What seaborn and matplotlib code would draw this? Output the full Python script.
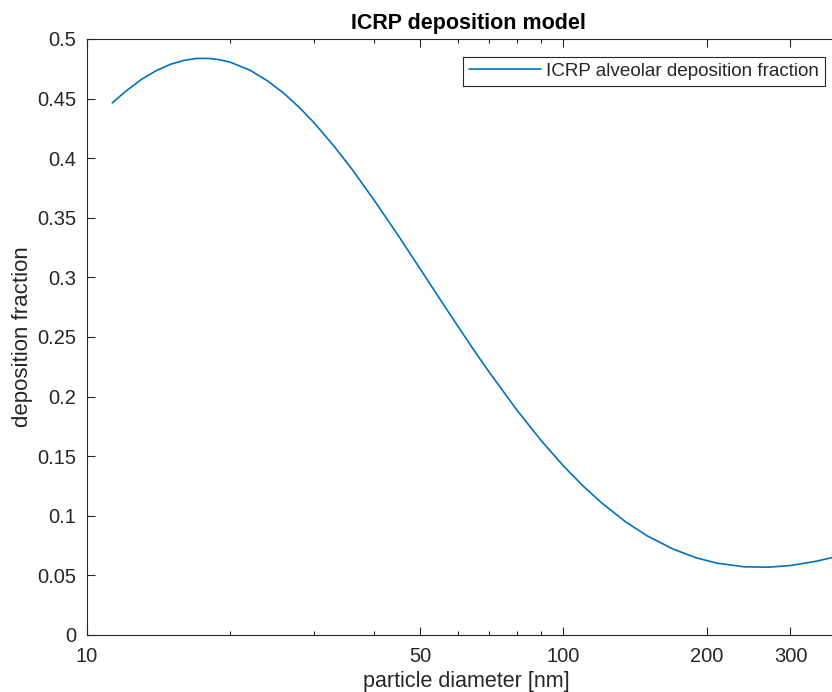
import matplotlib
matplotlib.use("Agg")
import matplotlib.pyplot as plt
import matplotlib.ticker as mticker
import numpy as np
import pandas as pd
import seaborn as sns

# particle diameter [nm] and ICRP alveolar deposition fraction
diameter_nm = [11.3, 12, 13, 14, 15, 16, 17, 18, 19, 20, 22, 24, 26, 28, 30, 33, 36,
               40, 45, 50, 55, 60, 65, 70, 80, 90, 100, 110, 120, 135, 150, 170, 190,
               210, 240, 270, 300, 340, 370, 400]
deposition = [0.4463, 0.4555, 0.4660, 0.4736, 0.4789, 0.4821, 0.4837, 0.4837, 0.4826,
              0.4805, 0.4738, 0.4646, 0.4539, 0.4420, 0.4296, 0.4102, 0.3908, 0.3653,
              0.3353, 0.3075, 0.2822, 0.2594, 0.2387, 0.2202, 0.1885, 0.1628, 0.1420,
              0.1251, 0.1113, 0.0951, 0.0832, 0.0721, 0.0648, 0.0603, 0.0572, 0.0569,
              0.0583, 0.0619, 0.0653, 0.0690]
series_label = "ICRP alveolar deposition fraction"
xticks = [10, 50, 100, 200, 300]
yticks = [0, 0.05, 0.1, 0.15, 0.2, 0.25, 0.3, 0.35, 0.4, 0.45, 0.5]

df = pd.DataFrame({"d": diameter_nm, "f": deposition, "s": series_label})

sns.set_theme(style="ticks")
plt.rcParams["font.family"] = ["Liberation Sans", "DejaVu Sans"]
axcol = "#262626"

fig = plt.figure(figsize=(8.32, 6.92), dpi=100)
W, H = 832, 692
ax = fig.add_axes([87 / W, 1 - 635 / H, 763 / W, 596 / H])

sns.lineplot(data=df, x="d", y="f", hue="s", palette=["#0072BD"], ax=ax,
             linewidth=1.2, estimator=None, sort=False)

ax.set_xscale("log")
ax.set_xlim(10, 400)
ax.set_ylim(0, 0.5)
ax.xaxis.set_major_locator(mticker.FixedLocator(xticks))
ax.xaxis.set_major_formatter(mticker.FixedFormatter([str(t) for t in xticks]))
ax.xaxis.set_minor_locator(mticker.LogLocator(base=10, subs=np.arange(2, 10)))
ax.xaxis.set_minor_formatter(mticker.NullFormatter())
ax.set_yticks(yticks)
ax.set_yticklabels([f"{t:g}" for t in yticks])

for sp in ax.spines.values():
    sp.set_visible(True)
    sp.set_color(axcol)
    sp.set_linewidth(0.8)

ax.tick_params(which="both", direction="in", top=True, right=True, colors=axcol,
               labelcolor=axcol, labelsize=14.5, width=0.8)
ax.tick_params(which="major", length=6)
ax.tick_params(which="minor", length=3)
ax.tick_params(axis="y", which="major", pad=8)
ax.tick_params(axis="x", which="major", pad=9)

ax.set_title("ICRP deposition model", fontsize=15.5, fontweight="bold", color="black", pad=7.5)
ax.set_xlabel("particle diameter [nm]", fontsize=15.5, color=axcol)
ax.set_ylabel("deposition fraction", fontsize=16, color=axcol)
ax.xaxis.set_label_coords((466 - 87) / 763, -0.061)
ax.yaxis.set_label_coords(-0.071, 0.5)

leg = ax.legend(loc="upper right", bbox_to_anchor=(825 / W, 1 - 57 / H),
                bbox_transform=fig.transFigure, fontsize=13.6, frameon=True,
                fancybox=False, framealpha=1, handlelength=3.8, borderpad=0.3,
                handletextpad=0.3, borderaxespad=0)
leg.get_frame().set_edgecolor(axcol)
leg.get_frame().set_linewidth(0.8)
for t in leg.get_texts():
    t.set_color(axcol)

fig.savefig("out.png", dpi=100)
